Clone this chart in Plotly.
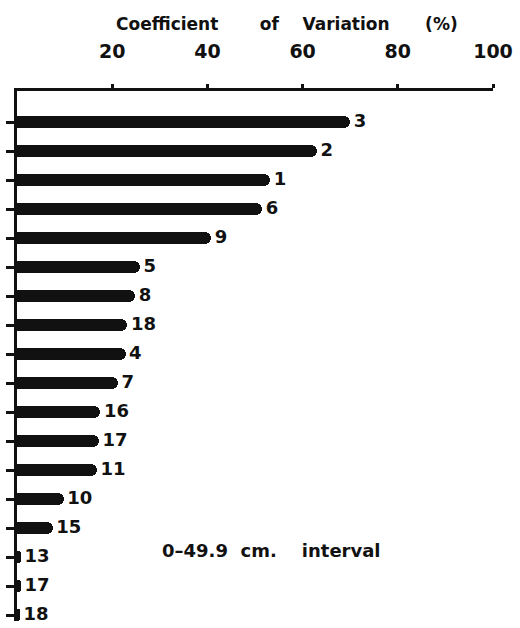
import plotly.graph_objects as go

# Coefficient of variation by station, 0-49.9 cm depth interval
stations = ["3", "2", "1", "6", "9", "5", "8", "18", "4", "7",
            "16", "17", "11", "10", "15", "13", "17", "18"]
cv_percent = [70.0, 63.0, 53.2, 51.5, 40.8, 25.8, 24.8, 23.2, 22.8, 21.2,
              17.5, 17.2, 16.8, 9.8, 7.5, 0.8, 0.8, 0.6]
x_ticks = [20, 40, 60, 80, 100]

rows = list(range(len(stations)))
ink = "#111111"
bold = "DejaVu Sans"
nb = "\u00a0"
thin = "\u2009"

fig = go.Figure()

fig.add_trace(go.Bar(
    x=cv_percent, y=rows, orientation="h",
    width=0.4,
    marker=dict(color=ink, line=dict(width=0), cornerradius=6),
    hoverinfo="skip",
))

# station numbers just past the end of each bar
fig.add_trace(go.Scatter(
    x=cv_percent, y=rows, mode="text",
    text=["<b>%s%s</b>" % (thin, s) for s in stations],
    textposition="middle right",
    textfont=dict(family=bold, size=18, color=ink),
    cliponaxis=False, hoverinfo="skip",
))

fig.update_layout(
    width=520, height=628,
    margin=dict(l=17, r=23, t=91, b=7),
    paper_bgcolor="white", plot_bgcolor="white",
    showlegend=False,
    bargap=0,
)

fig.update_xaxes(
    side="top", range=[0, 100],
    tickvals=x_ticks, ticktext=["<b>%d</b>" % v for v in x_ticks],
    tickfont=dict(family=bold, size=19, color=ink),
    ticks="outside", ticklen=4, tickwidth=3, tickcolor=ink,
    ticklabelstandoff=18,
    showline=True, linewidth=3, linecolor=ink,
    showgrid=False, zeroline=False,
)

fig.update_yaxes(
    range=[17.2, -1.07],
    tickvals=rows, showticklabels=False,
    ticks="outside", ticklen=8, tickwidth=3, tickcolor=ink,
    showline=True, linewidth=3, linecolor=ink,
    showgrid=False, zeroline=False,
)

fig.add_annotation(
    xref="paper", yref="paper", x=(289 - 17) / 480, y=1, yshift=67,
    text="<b>Coefficient" + nb * 7 + "of" + nb * 4 + "Variation" + nb * 6 + "(%)</b>",
    showarrow=False, xanchor="center", yanchor="middle",
    font=dict(family=bold, size=17, color=ink),
)

fig.add_annotation(
    xref="x", yref="paper", x=(274 - 17) / 4.8, y=(628 - 7 - 550) / 530,
    text="<b>0\u201349.9" + nb * 2 + "cm." + nb * 4 + "interval</b>",
    showarrow=False, xanchor="center", yanchor="middle",
    font=dict(family=bold, size=18, color=ink),
)

fig.write_html("out.html")
